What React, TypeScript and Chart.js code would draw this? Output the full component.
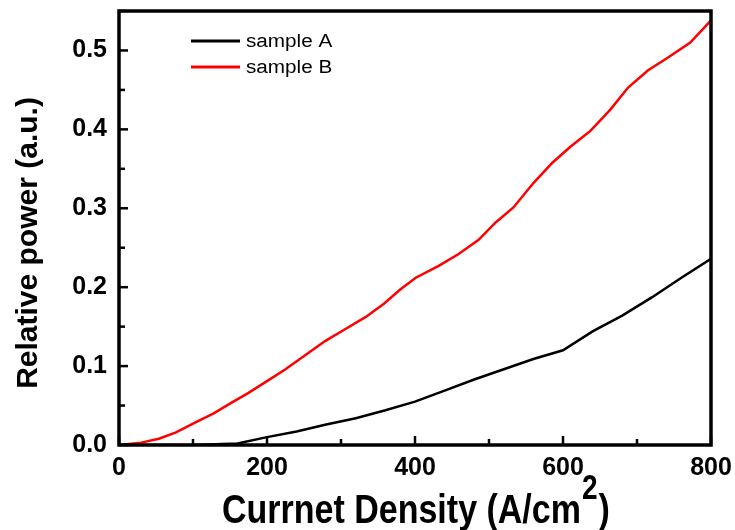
import React, { useEffect, useRef } from "react";
import { Chart, registerables } from "chart.js";

Chart.register(...registerables);

const sampleAX = [0, 100, 160, 200, 240, 280, 320, 360, 400, 440, 480, 520, 560, 600, 640, 680, 720, 760, 800];
const sampleAY = [0, 0, 0.002, 0.01, 0.017, 0.026, 0.034, 0.044, 0.055, 0.069, 0.083, 0.096, 0.109, 0.12, 0.144, 0.164, 0.187, 0.212, 0.236];

const sampleBX = [0, 30, 54, 77, 104, 128, 151, 175, 200, 225, 252, 279, 306, 333, 358, 380, 401, 432, 459, 486, 509, 533, 560, 586, 610, 637, 664, 688, 715, 742, 772, 800];
const sampleBY = [0, 0.003, 0.008, 0.016, 0.029, 0.04, 0.053, 0.066, 0.081, 0.096, 0.114, 0.132, 0.147, 0.162, 0.179, 0.197, 0.212, 0.227, 0.242, 0.26, 0.282, 0.301, 0.332, 0.358, 0.378, 0.398, 0.425, 0.453, 0.475, 0.491, 0.51, 0.538];

const seriesLabels = ["sample A", "sample B"];
const seriesColors = ["#000000", "#ff0000"];

const xMin = 0;
const xMax = 800;
const xStep = 200;
const yMin = 0;
const yMax = 0.55;
const yStep = 0.1;

const xTitle = "Currnet Density (A/cm";
const xTitleSup = "2";
const xTitleEnd = ")";
const yTitle = "Relative power (a.u.)";

const FONT = "Arial, 'Liberation Sans', sans-serif";

const framePlugin = {
  id: "frameAndTitles",
  afterDatasetsDraw(chart: any) {
    const { ctx, chartArea } = chart;
    const { left, right, top, bottom } = chartArea;
    const xs = chart.scales.x;
    const ys = chart.scales.y;
    ctx.save();
    ctx.strokeStyle = "#000";
    ctx.lineCap = "butt";
    ctx.lineWidth = 2.5;
    const majorLen = 9;
    const minorLen = 6;
    for (let v = xMin; v <= xMax + 1e-9; v += xStep / 2) {
      const px = xs.getPixelForValue(v);
      const major = Math.abs(v / xStep - Math.round(v / xStep)) < 1e-6;
      ctx.beginPath();
      ctx.moveTo(px, bottom);
      ctx.lineTo(px, bottom - (major ? majorLen : minorLen));
      ctx.stroke();
    }
    for (let i = 0; yMin + (i * yStep) / 2 <= yMax + 1e-9; i++) {
      const v = yMin + (i * yStep) / 2;
      const py = ys.getPixelForValue(v);
      const major = i % 2 === 0;
      ctx.beginPath();
      ctx.moveTo(left, py);
      ctx.lineTo(left + (major ? majorLen : minorLen), py);
      ctx.stroke();
    }
    ctx.lineWidth = 3.5;
    ctx.lineJoin = "miter";
    ctx.strokeRect(left, top, right - left, bottom - top);

    const ds = chart.data.datasets;
    ctx.font = `18px ${FONT}`;
    ctx.textBaseline = "middle";
    ctx.textAlign = "left";
    ds.forEach((d: any, i: number) => {
      const ly = 41 + i * 26;
      ctx.strokeStyle = d.borderColor;
      ctx.lineWidth = 3;
      ctx.beginPath();
      ctx.moveTo(191, ly);
      ctx.lineTo(240, ly);
      ctx.stroke();
      ctx.fillStyle = "#000";
      ctx.save();
      ctx.translate(246, ly + 1);
      ctx.scale(1.15, 1);
      ctx.fillText(d.label, 0, 0);
      ctx.restore();
    });

    ctx.fillStyle = "#000";
    ctx.save();
    ctx.translate(37, 243);
    ctx.rotate(-Math.PI / 2);
    ctx.font = `bold 30px ${FONT}`;
    ctx.textAlign = "center";
    ctx.textBaseline = "alphabetic";
    ctx.fillText(yTitle, 0, 0);
    ctx.restore();

    ctx.save();
    ctx.translate(222, 523);
    ctx.scale(1, 1.22);
    ctx.font = `bold 34px ${FONT}`;
    ctx.textAlign = "left";
    ctx.textBaseline = "alphabetic";
    ctx.fillText(xTitle, 0, 0);
    const w = ctx.measureText(xTitle).width;
    ctx.font = `bold 28px ${FONT}`;
    ctx.fillText(xTitleSup, w + 1, -20);
    const w2 = ctx.measureText(xTitleSup).width;
    ctx.font = `bold 34px ${FONT}`;
    ctx.fillText(xTitleEnd, w + w2 + 2, 0);
    ctx.restore();

    ctx.restore();
  },
};

export default function App() {
  const canvasRef = useRef<HTMLCanvasElement | null>(null);

  useEffect(() => {
    document.body.style.margin = "0";
    const canvas = canvasRef.current;
    if (!canvas) return;
    const chart = new Chart(canvas, {
      type: "line",
      data: {
        datasets: [
          {
            label: seriesLabels[0],
            data: sampleAX.map((x, i) => ({ x, y: sampleAY[i] })),
            borderColor: seriesColors[0],
            backgroundColor: seriesColors[0],
            borderWidth: 2.5,
            pointRadius: 0,
            tension: 0,
          },
          {
            label: seriesLabels[1],
            data: sampleBX.map((x, i) => ({ x, y: sampleBY[i] })),
            borderColor: seriesColors[1],
            backgroundColor: seriesColors[1],
            borderWidth: 2.5,
            pointRadius: 0,
            tension: 0,
          },
        ],
      },
      options: {
        animation: false,
        responsive: false,
        devicePixelRatio: 1,
        layout: { padding: { top: 11, right: 24, left: 0, bottom: 0 } },
        plugins: {
          legend: { display: false },
          tooltip: { enabled: false },
        },
        scales: {
          x: {
            type: "linear",
            min: xMin,
            max: xMax,
            grid: { display: false, drawTicks: false },
            border: { display: false },
            ticks: {
              stepSize: xStep,
              padding: 8,
              color: "#000",
              font: { family: FONT, size: 25, weight: "bold" },
              maxRotation: 0,
            },
            afterFit: (scale: any) => {
              scale.height = 85;
              scale.paddingLeft = 0;
              scale.paddingRight = 0;
            },
          },
          y: {
            type: "linear",
            min: yMin,
            max: yMax,
            grid: { display: false, drawTicks: false },
            border: { display: false },
            ticks: {
              stepSize: yStep,
              padding: 12,
              color: "#000",
              font: { family: FONT, size: 25, weight: "bold" },
              callback: (v: any) => {
                const n = Number(v);
                if (n > 0.5 + 1e-9) return "";
                return n.toFixed(1);
              },
            },
            afterFit: (scale: any) => {
              scale.width = 119;
              scale.paddingTop = 0;
              scale.paddingBottom = 0;
            },
          },
        },
      },
      plugins: [framePlugin],
    });
    return () => chart.destroy();
  }, []);

  return (
    <div style={{ position: "absolute", left: 0, top: 0, width: 735, height: 530 }}>
      <canvas ref={canvasRef} width={735} height={530} style={{ width: 735, height: 530 }} />
    </div>
  );
}
